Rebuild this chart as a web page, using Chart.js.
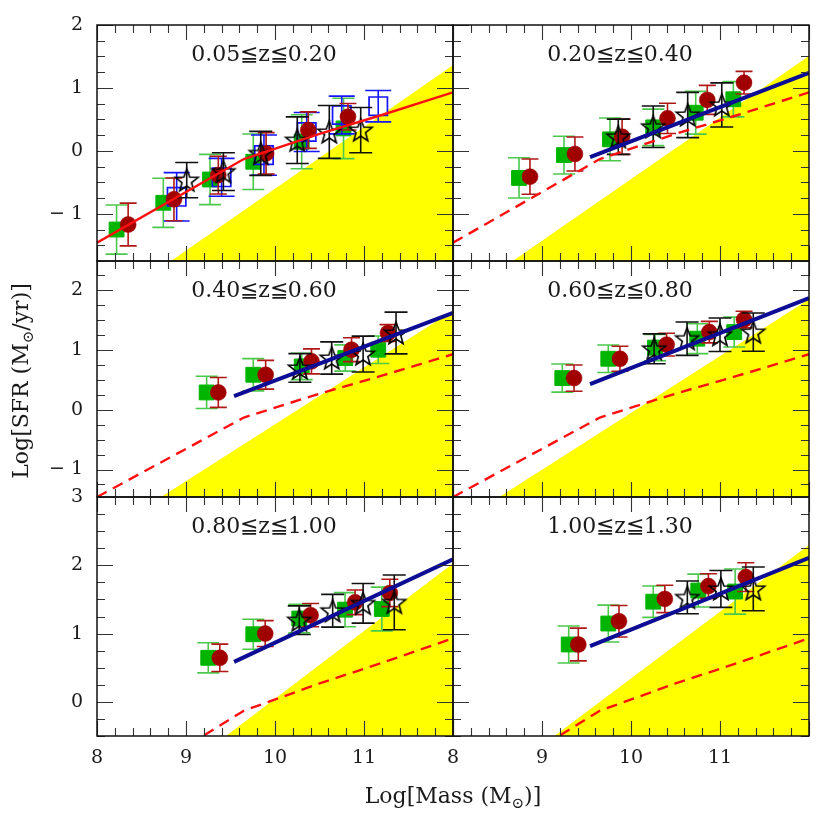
<!DOCTYPE html>
<html>
<head>
<meta charset="utf-8">
<script src="https://cdn.jsdelivr.net/npm/chart.js@4.4.0/dist/chart.umd.min.js"></script>
<style>
  body { margin: 0; background: #fff; }
  #wrap { position: relative; width: 830px; height: 828px; }
  #wrap canvas { position: absolute; left: 0; top: 0; }
</style>
</head>
<body>
<div id="wrap"></div>
<script>
// ---- data (one entry per panel, row by row) ----
const panelLabels = ['0.05≦z≦0.20', '0.20≦z≦0.40', '0.40≦z≦0.60', '0.60≦z≦0.80', '0.80≦z≦1.00', '1.00≦z≦1.30'];

const xRange = [8, 12];
const yRanges = [[-1.75, 2], [-1.46, 2.49], [-0.5, 3]];
const xTickLabels = [8, 9, 10, 11];
const yTickLabels = [[2, 1, 0, -1], [2, 1, 0, -1], [3, 2, 1, 0]];

// green filled squares
const greenMass = [
  [8.22, 8.745, 9.27, 9.756, 10.30, 10.77],
  [8.742, 9.247, 9.764, 10.25, 10.727, 11.15],
  [9.232, 9.756, 10.30, 10.79, 11.16],
  [9.228, 9.745, 10.27, 10.745, 11.16],
  [9.25, 9.756, 10.273, 10.787, 11.2],
  [9.30, 9.745, 10.25, 10.756, 11.17]
];
const greenSfr = [
  [-1.25, -0.825, -0.455, -0.173, 0.145, 0.357],
  [-0.43, -0.067, 0.183, 0.373, 0.606, 0.82],
  [0.29, 0.586, 0.725, 0.866, 1.005],
  [0.53, 0.854, 1.04, 1.19, 1.30],
  [0.645, 0.99, 1.22, 1.35, 1.36],
  [0.84, 1.147, 1.467, 1.63, 1.615]
];
const greenErr = [
  [0.39, 0.39, 0.40, 0.44, 0.43, 0.48],
  [0.32, 0.30, 0.34, 0.29, 0.34, 0.28],
  [0.27, 0.27, 0.22, 0.22, 0.23],
  [0.235, 0.23, 0.22, 0.25, 0.25],
  [0.22, 0.22, 0.21, 0.25, 0.32],
  [0.27, 0.27, 0.23, 0.24, 0.33]
];

// dark red circles
const redMass = [
  [8.35, 8.865, 9.363, 9.90, 10.374, 10.82],
  [8.865, 9.37, 9.90, 10.41, 10.857, 11.27],
  [9.363, 9.895, 10.41, 10.86, 11.27],
  [9.36, 9.876, 10.40, 10.88, 11.27],
  [9.38, 9.89, 10.40, 10.90, 11.29],
  [9.408, 9.865, 10.38, 10.87, 11.29]
];
const redSfr = [
  [-1.17, -0.77, -0.385, -0.04, 0.33, 0.542],
  [-0.41, -0.05, 0.224, 0.517, 0.81, 1.083],
  [0.29, 0.586, 0.81, 1.005, 1.285],
  [0.53, 0.854, 1.09, 1.30, 1.51],
  [0.645, 1.0, 1.27, 1.457, 1.595],
  [0.84, 1.18, 1.507, 1.695, 1.827]
];
const redErr = [
  [0.34, 0.34, 0.30, 0.33, 0.29, 0.21],
  [0.28, 0.27, 0.28, 0.24, 0.23, 0.18],
  [0.25, 0.24, 0.21, 0.20, 0.14],
  [0.22, 0.21, 0.19, 0.18, 0.14],
  [0.20, 0.19, 0.17, 0.18, 0.20],
  [0.24, 0.23, 0.20, 0.18, 0.21]
];

// open black stars
const starMass = [
  [9.008, 9.42, 9.84, 10.25, 10.61, 10.963],
  [9.857, 10.25, 10.637, 11.02],
  [10.28, 10.637, 10.99, 11.36],
  [10.26, 10.63, 11.0, 11.374],
  [10.273, 10.648, 10.99, 11.34],
  [10.633, 11.01, 11.374]
];
const starSfr = [
  [-0.464, -0.33, -0.04, 0.17, 0.30, 0.33],
  [0.224, 0.383, 0.57, 0.73],
  [0.70, 0.866, 0.933, 1.285],
  [1.02, 1.19, 1.256, 1.30],
  [1.196, 1.334, 1.443, 1.457],
  [1.53, 1.654, 1.654]
];
const starErr = [
  [0.28, 0.30, 0.35, 0.37, 0.42, 0.36],
  [0.28, 0.33, 0.36, 0.35],
  [0.24, 0.27, 0.30, 0.35],
  [0.25, 0.28, 0.28, 0.32],
  [0.21, 0.24, 0.29, 0.40],
  [0.24, 0.27, 0.32]
];

// open blue squares (first panel only)
const blueMass = [8.895, 9.40, 9.876, 10.356, 10.75, 11.16];
const blueSfr = [-0.73, -0.42, -0.067, 0.30, 0.57, 0.71];
const blueErr = [0.385, 0.30, 0.32, 0.31, 0.30, 0.25];

// red reference relation (solid in panel 1, dashed elsewhere)
const refMass = [8, 9.65, 10.5, 11.2, 12];
const refSfr = [-1.46, -0.13, 0.27, 0.57, 0.93];

// blue fit lines (panels 2-6)
const fitMass = [9.54, 12];
const fitSfr = [null, [-0.10, 1.24], [0.23, 1.62], [0.43, 1.87], [0.586, 2.087], [0.817, 2.11]];

// yellow excluded region: its upper edge, filled down to the panel bottom
const yellowMass = [[8.84, 12], [8.68, 12], [8.73, 12], [8.53, 12], [9.457, 12], [9.146, 12]];
const yellowSfr = [[-1.75, 1.354], [-1.75, 1.50], [-1.46, 1.65], [-1.46, 1.84], [-0.5, 2.02], [-0.5, 2.29]];

// ---- layout ----
const W = 830, H = 828;
const colEdges = [97, 453, 809];
const rowEdges = [25, 261, 497, 736];
const FONT = '"DejaVu Serif", serif';

const pts = (xs, ys) => xs.map((x, i) => ({ x: x, y: ys[i] }));

// open five-pointed star marker
function makeStar() {
  const c = document.createElement('canvas');
  c.width = 30; c.height = 30;
  const g = c.getContext('2d');
  g.beginPath();
  for (let i = 0; i < 10; i++) {
    const r = i % 2 === 0 ? 12 : 5;
    const a = -Math.PI / 2 + i * Math.PI / 5;
    const px = 15 + r * Math.cos(a), py = 16 + r * Math.sin(a);
    if (i === 0) g.moveTo(px, py); else g.lineTo(px, py);
  }
  g.closePath();
  g.lineWidth = 1.6;
  g.strokeStyle = '#000';
  g.stroke();
  return c;
}
const starImg = makeStar();

// error bars, drawn just before their own markers
const errorBarPlugin = {
  id: 'errorBars',
  beforeDatasetDraw(chart, args) {
    const ds = chart.data.datasets[args.index];
    if (!ds.errors) return;
    const xs = chart.scales.x, ys = chart.scales.y, ctx = chart.ctx;
    ctx.save();
    ctx.strokeStyle = ds.errColor;
    ctx.lineWidth = 1.6;
    ds.data.forEach((p, j) => {
      const px = xs.getPixelForValue(p.x);
      const top = ys.getPixelForValue(p.y + ds.errors[j]);
      const bot = ys.getPixelForValue(p.y - ds.errors[j]);
      const h = ds.capWidth / 2;
      ctx.beginPath();
      ctx.moveTo(px, top); ctx.lineTo(px, bot);
      ctx.moveTo(px - h, top); ctx.lineTo(px + h, top);
      ctx.moveTo(px - h, bot); ctx.lineTo(px + h, bot);
      ctx.stroke();
    });
    ctx.restore();
  }
};

function drawRich(ctx, parts, cx, cy, size) {
  const subSize = Math.round(size * 0.68);
  let total = 0;
  parts.forEach(p => {
    ctx.font = (p.sub ? subSize : size) + 'px ' + FONT;
    p.w = ctx.measureText(p.t).width;
    total += p.w;
  });
  let x = cx - total / 2;
  ctx.textAlign = 'left';
  ctx.textBaseline = 'middle';
  parts.forEach(p => {
    ctx.font = (p.sub ? subSize : size) + 'px ' + FONT;
    ctx.fillText(p.t, x, cy + (p.sub ? 7 : 0));
    x += p.w;
  });
}

// frame, inward ticks, tick labels and panel label
const framePlugin = {
  id: 'frame',
  afterDatasetsDraw(chart, args, opts) {
    const { ctx, chartArea: a } = chart;
    const x = chart.scales.x, y = chart.scales.y;
    ctx.save();
    ctx.strokeStyle = '#333';
    ctx.lineWidth = 1.1;
    ctx.beginPath();
    for (let k = Math.ceil(x.min * 5 - 1e-6); k <= Math.floor(x.max * 5 + 1e-6); k++) {
      const px = Math.round(x.getPixelForValue(k / 5)) + 0.5;
      const len = k % 5 === 0 ? 15 : 8;
      ctx.moveTo(px, a.bottom); ctx.lineTo(px, a.bottom - len);
      ctx.moveTo(px, a.top); ctx.lineTo(px, a.top + len);
    }
    for (let k = Math.ceil(y.min * 4 - 1e-6); k <= Math.floor(y.max * 4 + 1e-6); k++) {
      const py = Math.round(y.getPixelForValue(k / 4)) + 0.5;
      const len = k % 4 === 0 ? 16 : 8;
      ctx.moveTo(a.left, py); ctx.lineTo(a.left + len, py);
      ctx.moveTo(a.right, py); ctx.lineTo(a.right - len, py);
    }
    ctx.stroke();

    ctx.lineWidth = 1.5;
    ctx.strokeStyle = '#111';
    ctx.strokeRect(a.left, a.top, a.right - a.left, a.bottom - a.top);

    ctx.fillStyle = '#1a1a1a';
    if (opts.showY) {
      ctx.font = '19px ' + FONT;
      ctx.textAlign = 'right';
      ctx.textBaseline = 'middle';
      opts.yLabels.forEach(v => {
        ctx.fillText(v < 0 ? '\u2212 ' + Math.abs(v) : String(v), a.left - 14, y.getPixelForValue(v));
      });
    }
    if (opts.showX) {
      ctx.font = '19px ' + FONT;
      ctx.textAlign = 'center';
      ctx.textBaseline = 'middle';
      xTickLabels.forEach(v => ctx.fillText(String(v), x.getPixelForValue(v), a.bottom + 22));
    }
    ctx.font = '22px ' + FONT;
    ctx.textAlign = 'center';
    ctx.textBaseline = 'middle';
    ctx.fillText(opts.label, a.left + 167, a.top + 30);

    if (opts.titles) {
      drawRich(ctx, [{ t: 'Log[Mass (M' }, { t: '\u2299', sub: true }, { t: ')]' }], 453, 797, 22);
      ctx.save();
      ctx.translate(22, 381);
      ctx.rotate(-Math.PI / 2);
      drawRich(ctx, [{ t: 'Log[SFR (M' }, { t: '\u2299', sub: true }, { t: '/yr)]' }], 0, 0, 22);
      ctx.restore();
    }
    ctx.restore();
  }
};

const wrap = document.getElementById('wrap');

for (let i = 0; i < 6; i++) {
  const row = Math.floor(i / 2), col = i % 2;
  const left = colEdges[col], right = colEdges[col + 1];
  const top = rowEdges[row], bottom = rowEdges[row + 1];

  const datasets = [];
  datasets.push({
    data: pts(yellowMass[i], yellowSfr[i]),
    fill: 'start', backgroundColor: '#ffff00', borderColor: '#ffff00', borderWidth: 1,
    pointRadius: 0, order: 20
  });
  datasets.push({
    data: pts(greenMass[i], greenSfr[i]), showLine: false,
    pointStyle: 'rect', pointRadius: 10.5, backgroundColor: '#00b400', borderColor: '#00b400', borderWidth: 1,
    errors: greenErr[i], errColor: '#4cc84c', capWidth: 22, order: 9
  });
  if (i === 0) {
    datasets.push({
      data: pts(blueMass, blueSfr), showLine: false,
      pointStyle: 'rect', pointRadius: 13, backgroundColor: 'rgba(0,0,0,0)', borderColor: '#1414ff', borderWidth: 1.7,
      errors: blueErr, errColor: '#1414ff', capWidth: 26, order: 8
    });
  }
  datasets.push({
    data: pts(redMass[i], redSfr[i]), showLine: false,
    pointStyle: 'circle', pointRadius: 8, backgroundColor: '#a00000', borderColor: '#a00000', borderWidth: 0.5,
    errors: redErr[i], errColor: '#b01818', capWidth: 17, order: 7
  });
  datasets.push({
    data: pts(starMass[i], starSfr[i]), showLine: false,
    pointStyle: starImg, pointRadius: 12,
    errors: starErr[i], errColor: '#111', capWidth: 23, order: 6
  });
  datasets.push({
    data: pts(refMass, refSfr), fill: false,
    borderColor: '#ff1010', borderWidth: 2.4, borderDash: i === 0 ? [] : [11, 7],
    pointRadius: 0, order: 3
  });
  if (fitSfr[i]) {
    datasets.push({
      data: pts(fitMass, fitSfr[i]), fill: false,
      borderColor: '#0c0c94', borderWidth: 4, pointRadius: 0, order: 2
    });
  }

  const canvas = document.createElement('canvas');
  canvas.width = W; canvas.height = H;
  wrap.appendChild(canvas);

  new Chart(canvas, {
    type: 'line',
    data: { datasets: datasets },
    options: {
      responsive: false,
      animation: false,
      events: [],
      layout: { autoPadding: false, padding: { left: left, top: top, right: W - right, bottom: H - bottom } },
      scales: {
        x: { type: 'linear', min: xRange[0], max: xRange[1], display: false },
        y: { type: 'linear', min: yRanges[row][0], max: yRanges[row][1], display: false }
      },
      plugins: {
        legend: { display: false },
        tooltip: { enabled: false },
        frame: {
          label: panelLabels[i],
          showX: row === 2,
          showY: col === 0,
          yLabels: yTickLabels[row],
          titles: i === 0
        }
      }
    },
    plugins: [errorBarPlugin, framePlugin]
  });
}
</script>
</body>
</html>
